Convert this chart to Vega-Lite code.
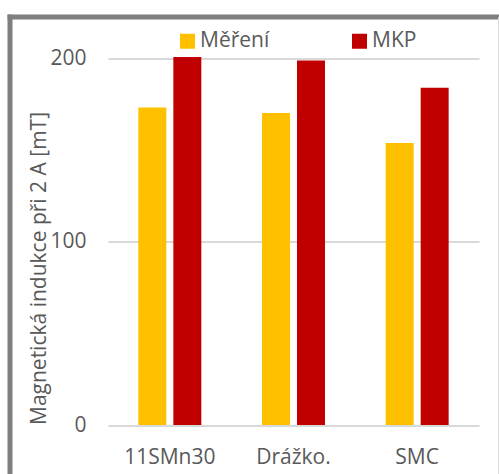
{
  "$schema": "https://vega.github.io/schema/vega-lite/v6.json",
  "width": 489.5,
  "height": 457.5,
  "autosize": {"type": "none"},
  "padding": {"left": 9.5, "top": 16.5, "right": 0, "bottom": 0},
  "background": "white",
  "config": {
    "view": {"stroke": null},
    "font": "Open Sans"
  },
  "data": {
    "values": [
      {"material": "11SMn30", "serie": "Měření", "value": 173},
      {"material": "11SMn30", "serie": "MKP", "value": 200.5},
      {"material": "Drážko.", "serie": "Měření", "value": 170},
      {"material": "Drážko.", "serie": "MKP", "value": 198.7},
      {"material": "SMC", "serie": "Měření", "value": 153.7},
      {"material": "SMC", "serie": "MKP", "value": 183.8}
    ]
  },
  "layer": [
    {
      "mark": {"type": "bar"},
      "encoding": {
        "x": {
          "field": "material",
          "type": "nominal",
          "sort": null,
          "scale": {"range": [98.5, 469.5], "paddingInner": 0, "paddingOuter": 0},
          "axis": {
            "title": null,
            "orient": "bottom",
            "offset": -49,
            "domain": false,
            "ticks": false,
            "labelAngle": 0,
            "labelFontSize": 21,
            "labelColor": "#595959",
            "labelPadding": 21,
            "grid": false
          }
        },
        "xOffset": {
          "field": "serie",
          "sort": ["Měření", "MKP"],
          "scale": {"paddingInner": 0.2, "paddingOuter": 0.867}
        },
        "y": {
          "field": "value",
          "type": "quantitative",
          "scale": {"domain": [-26.703, 222.616], "nice": false, "zero": false},
          "axis": {
            "title": "Magnetická indukce při 2 A [mT]",
            "orient": "left",
            "values": [0, 100, 200],
            "offset": -98.5,
            "domain": false,
            "ticks": false,
            "grid": true,
            "gridColor": "#d9d9d9",
            "gridWidth": 2,
            "labelFontSize": 21,
            "labelColor": "#595959",
            "labelPadding": 22,
            "titleFontSize": 21,
            "titleFontWeight": "normal",
            "titleColor": "#595959",
            "titleX": -59,
            "titleY": 251.5,
            "titleBaseline": "bottom"
          }
        },
        "y2": {"datum": 0},
        "color": {
          "field": "serie",
          "type": "nominal",
          "sort": ["Měření", "MKP"],
          "scale": {"domain": ["Měření", "MKP"], "range": ["#ffc000", "#c00000"]},
          "legend": {
            "title": null,
            "orient": "none",
            "direction": "horizontal",
            "legendX": 167.5,
            "legendY": 14,
            "padding": 0,
            "symbolType": "square",
            "symbolSize": 225,
            "symbolStrokeWidth": 0,
            "symbolOpacity": 1,
            "labelFontSize": 21,
            "labelColor": "#595959",
            "labelOffset": 2,
            "columnPadding": 79
          }
        }
      }
    },
    {
      "mark": {"type": "point", "opacity": 0},
      "encoding": {
        "x": {
          "field": "value",
          "type": "quantitative",
          "axis": {
            "orient": "top",
            "title": null,
            "labels": false,
            "ticks": false,
            "grid": false,
            "domain": true,
            "domainColor": "#7f7f7f",
            "domainWidth": 5,
            "domainCap": "square"
          }
        },
        "y": {
          "field": "value",
          "type": "quantitative",
          "axis": {
            "orient": "left",
            "title": null,
            "labels": false,
            "ticks": false,
            "grid": false,
            "domain": true,
            "domainColor": "#7f7f7f",
            "domainWidth": 5,
            "domainCap": "square"
          }
        }
      }
    },
    {
      "mark": {"type": "point", "opacity": 0},
      "encoding": {
        "y": {
          "field": "value",
          "type": "quantitative",
          "axis": {
            "orient": "right",
            "offset": -1,
            "title": null,
            "labels": false,
            "ticks": false,
            "grid": false,
            "domain": true,
            "domainColor": "#d9d9d9",
            "domainWidth": 1
          }
        }
      }
    }
  ],
  "resolve": {
    "scale": {"x": "independent", "y": "independent"},
    "axis": {"x": "independent", "y": "independent"}
  }
}
